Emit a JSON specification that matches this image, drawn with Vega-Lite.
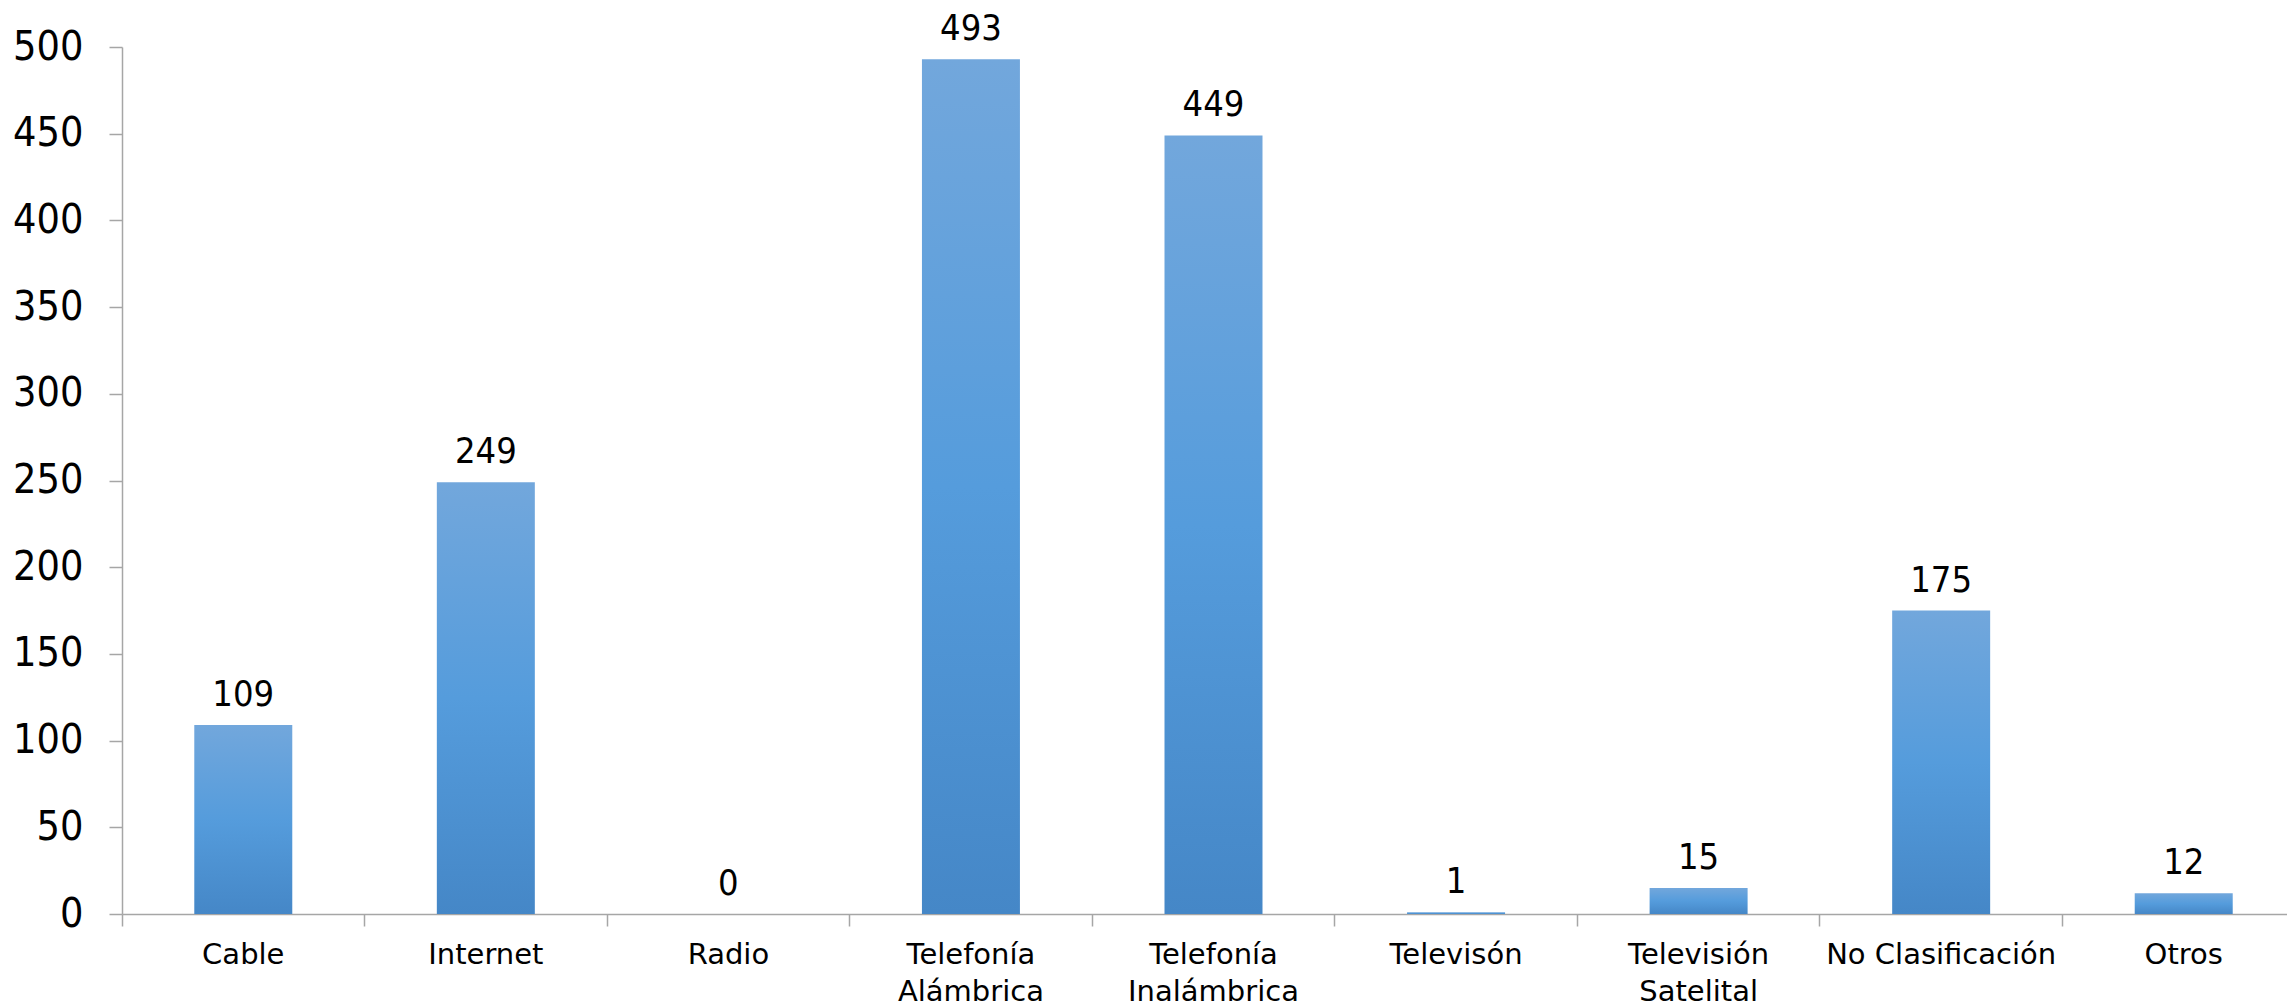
{
  "$schema": "https://vega.github.io/schema/vega-lite/v6.json",
  "autosize": "none",
  "width": 2165,
  "height": 867,
  "padding": {"left": 122, "top": 47, "right": 0, "bottom": 92},
  "background": "white",
  "config": {"view": {"stroke": null}},
  "data": {
    "values": [
      {"categoria": "Cable", "valor": 109},
      {"categoria": "Internet", "valor": 249},
      {"categoria": "Radio", "valor": 0},
      {"categoria": "Telefonía Alámbrica", "valor": 493},
      {"categoria": "Telefonía Inalámbrica", "valor": 449},
      {"categoria": "Televisón", "valor": 1},
      {"categoria": "Televisión Satelital", "valor": 15},
      {"categoria": "No Clasificación", "valor": 175},
      {"categoria": "Otros", "valor": 12}
    ]
  },
  "encoding": {
    "x": {
      "field": "categoria",
      "type": "nominal",
      "sort": null,
      "scale": {"range": [0, 2183], "paddingInner": 0, "paddingOuter": 0},
      "axis": {
        "title": null,
        "labelAngle": 0,
        "labelFont": "DejaVu Sans",
        "labelFontSize": 29,
        "labelColor": "#000000",
        "labelPadding": 14,
        "labelBaseline": "top",
        "labelLineHeight": 37,
        "labelLimit": 400,
        "labelExpr": "indexof(['Telefonía Alámbrica','Telefonía Inalámbrica','Televisión Satelital'], datum.label) >= 0 ? split(datum.label, ' ') : datum.label",
        "bandPosition": 0,
        "tickSize": 12,
        "tickColor": "#a6a6a6",
        "tickWidth": 1.5,
        "domainColor": "#a6a6a6",
        "domainWidth": 1.5,
        "grid": false
      }
    },
    "y": {
      "field": "valor",
      "type": "quantitative",
      "scale": {"domain": [0, 500], "nice": false},
      "axis": {
        "title": null,
        "values": [0, 50, 100, 150, 200, 250, 300, 350, 400, 450, 500],
        "labelFont": "DejaVu Sans Condensed, DejaVu Sans",
        "labelFontSize": 41,
        "labelColor": "#000000",
        "labelPadding": 26,
        "tickSize": 13,
        "tickColor": "#a6a6a6",
        "tickWidth": 1.5,
        "domainColor": "#a6a6a6",
        "domainWidth": 1.5,
        "grid": false
      }
    }
  },
  "layer": [
    {
      "mark": {
        "type": "bar",
        "width": {"band": 0.404},
        "fill": {
          "gradient": "linear",
          "x1": 0, "y1": 0, "x2": 0, "y2": 1,
          "stops": [
            {"offset": 0, "color": "#72a7dc"},
            {"offset": 0.5, "color": "#559cdc"},
            {"offset": 1, "color": "#4587c7"}
          ]
        }
      }
    },
    {
      "mark": {
        "type": "text",
        "baseline": "alphabetic",
        "dy": -19,
        "font": "DejaVu Sans Condensed, DejaVu Sans",
        "fontSize": 36,
        "color": "#000000"
      },
      "encoding": {"text": {"field": "valor", "type": "quantitative"}}
    }
  ]
}
